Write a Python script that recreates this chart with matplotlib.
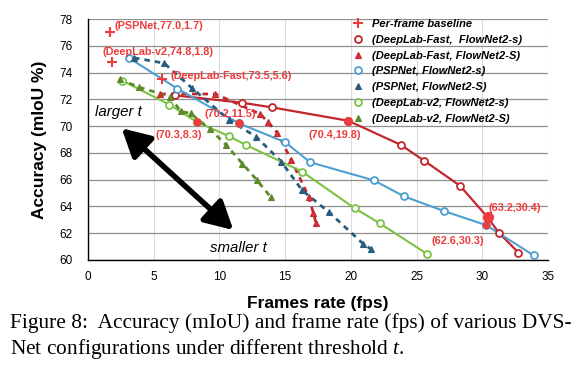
import matplotlib
matplotlib.use("Agg")
import matplotlib.pyplot as plt

# data (fps, mIoU %)
baseline_fps = [1.7, 1.8, 5.6]
baseline_acc = [77.0, 74.8, 73.5]

dlf_s_fps = [6.6, 11.7, 14.0, 19.8, 23.8, 25.6, 28.3, 30.4, 31.25, 32.75]
dlf_s_acc = [72.3, 71.75, 71.4, 70.4, 68.6, 67.4, 65.55, 63.2, 62.05, 60.55]

dlf_S_fps = [5.5, 9.7, 13.1, 13.7, 14.4, 15.45, 16.8, 17.15, 17.35]
dlf_S_acc = [72.4, 72.4, 70.9, 70.3, 69.5, 67.5, 64.7, 63.5, 62.75]

psp_s_fps = [3.1, 6.8, 11.5, 15.0, 16.9, 21.75, 24.05, 27.1, 30.3, 33.9]
psp_s_acc = [75.1, 72.8, 70.2, 68.8, 67.3, 65.95, 64.75, 63.65, 62.6, 60.35]

psp_S_fps = [3.5, 5.8, 7.9, 10.75, 12.8, 14.7, 16.3, 18.3, 20.95, 21.55]
psp_S_acc = [75.1, 74.7, 72.85, 70.45, 69.2, 67.35, 65.2, 63.6, 61.2, 60.8]

dl2_s_fps = [2.6, 6.2, 8.3, 10.7, 12.0, 16.3, 20.3, 22.2, 25.8]
dl2_s_acc = [73.4, 71.6, 70.3, 69.26, 68.6, 66.6, 63.86, 62.74, 60.45]

dl2_S_fps = [2.4, 3.9, 6.25, 7.05, 7.8, 9.3, 10.5, 11.75, 12.85, 13.9]
dl2_S_acc = [73.5, 72.9, 72.2, 71.1, 70.95, 69.76, 68.6, 67.2, 65.97, 64.7]

# highlighted operating points
hl_fps = [8.3, 11.5, 19.8, 30.4, 30.3]
hl_acc = [70.3, 70.2, 70.4, 63.2, 62.6]
hl_size = [5, 5, 5.5, 7, 4.5]

RED = "#ee3b3b"
DRED = "#c1272d"
LBLUE = "#4e9fd0"
DBLUE = "#285d80"
GREEN = "#7cc243"
OLIVE = "#5d8a2c"

plt.rcParams["font.family"] = ["Liberation Sans", "DejaVu Sans"]
plt.rcParams["mathtext.fontset"] = "custom"
plt.rcParams["mathtext.it"] = "Liberation Serif:italic"
plt.rcParams["mathtext.rm"] = "Liberation Serif"

fig = plt.figure(figsize=(5.86, 3.72), dpi=100)
ax = fig.add_axes([88 / 586, 1 - 260 / 372, 460 / 586, 241 / 372])

dash = (0, (2.0, 1.8))
# lines
ax.plot(dlf_s_fps, dlf_s_acc, color=DRED, lw=1.6, zorder=2)
ax.plot(dlf_S_fps, dlf_S_acc, color=DRED, lw=2.0, ls=dash, zorder=2)
ax.plot(psp_s_fps, psp_s_acc, color=LBLUE, lw=1.5, zorder=2)
ax.plot(psp_S_fps, psp_S_acc, color=DBLUE, lw=2.0, ls=dash, zorder=2)
ax.plot(dl2_s_fps, dl2_s_acc, color=GREEN, lw=1.5, zorder=2)
ax.plot(dl2_S_fps, dl2_S_acc, color=OLIVE, lw=2.0, ls=dash, zorder=2)

# markers
circ = dict(marker="o", ls="none", ms=5, mew=1.3, mfc="white", zorder=3)
tri = dict(marker="^", ls="none", ms=4.8, mew=0.8, zorder=3)
ax.plot(baseline_fps, baseline_acc, marker="+", ls="none", ms=7, mew=1.5,
        color=RED, zorder=3, label="Per-frame baseline")
ax.plot(dlf_s_fps, dlf_s_acc, mec=DRED, label="(DeepLab-Fast,  FlowNet2-s)", **circ)
ax.plot(dlf_S_fps, dlf_S_acc, color="#d8333a", mec=DRED,
        label="(DeepLab-Fast, FlowNet2-S)", **tri)
ax.plot(psp_s_fps, psp_s_acc, mec=LBLUE, label="(PSPNet, FlowNet2-s)", **circ)
ax.plot(psp_S_fps, psp_S_acc, color=DBLUE, mec=DBLUE,
        label="(PSPNet, FlowNet2-S)", **tri)
ax.plot(dl2_s_fps, dl2_s_acc, mec=GREEN, label="(DeepLab-v2, FlowNet2-s)", **circ)
ax.plot(dl2_S_fps, dl2_S_acc, color=OLIVE, mec=OLIVE,
        label="(DeepLab-v2, FlowNet2-S)", **tri)

for x, y, s in zip(hl_fps, hl_acc, hl_size):
    ax.plot(x, y, marker="o", ms=s, color=RED, mec=RED, zorder=4)

# annotations
ann = dict(color=RED, fontsize=7.8, fontweight="bold", ha="left", va="center", zorder=5)
ax.text(2.05, 77.48, "(PSPNet,77.0,1.7)", **ann)
ax.text(1.12, 75.56, "(DeepLab-v2,74.8,1.8)", **ann)
ax.text(6.29, 73.74, "(DeepLab-Fast,73.5,5.6)", **ann)
ax.text(8.83, 70.93, "(70.2,11.5)", **ann)
ax.text(5.17, 69.34, "(70.3,8.3)", **ann)
ax.text(16.77, 69.34, "(70.4,19.8)", **ann)
ax.text(30.44, 63.86, "(63.2,30.4)", **ann)
ax.text(26.16, 61.44, "(62.6,30.3)", **ann)

ax.text(0.53, 71.08, "larger t", fontsize=10.8, style="italic", va="center")
ax.text(9.28, 60.88, "smaller t", fontsize=10.8, style="italic", va="center")
ax.annotate("", xy=(2.56, 69.84), xytext=(11.06, 62.24),
            arrowprops=dict(arrowstyle="<|-|>,head_length=1.2,head_width=0.65",
                            lw=4, color="black", shrinkA=0, shrinkB=0,
                            mutation_scale=14), zorder=5)

ax.set_xlim(0, 35)
ax.set_ylim(60, 78)
ax.set_xticks(range(0, 36, 5))
ax.set_yticks(range(60, 79, 2))
ax.tick_params(length=0, labelsize=8.5)
ax.tick_params(axis="y", pad=11)
ax.tick_params(axis="x", pad=8)
for sp in ["top", "right"]:
    ax.spines[sp].set_visible(False)
for sp in ["left", "bottom"]:
    ax.spines[sp].set_linewidth(1.0)
ax.yaxis.grid(True, color="#8f8f8f", lw=0.9)
ax.xaxis.grid(True, color="#dcdcdc", lw=0.8)
ax.set_axisbelow(True)

ax.set_xlabel("Frames rate (fps)", fontsize=12.5, fontweight="bold", labelpad=9)
ax.set_ylabel("Accuracy (mIoU %)", fontsize=12.5, fontweight="bold", labelpad=9)

leg = ax.legend(loc="upper left", bbox_to_anchor=(0.575, 1.0), frameon=False,
                prop=dict(size=8, weight="bold", style="italic"),
                handlelength=1.0, handletextpad=0.8, labelspacing=0.52,
                borderpad=0, borderaxespad=0)

# caption
cap = dict(family=["Liberation Serif", "DejaVu Serif"], fontsize=15.4, ha="left", va="center")
fig.text(10 / 586, 1 - 323 / 372,
         "Figure 8:  Accuracy (mIoU) and frame rate (fps) of various DVS-", **cap)
fig.text(10 / 586, 1 - 349 / 372,
         "Net configurations under different threshold $t$.", **cap)

fig.savefig("out.png", dpi=100)
